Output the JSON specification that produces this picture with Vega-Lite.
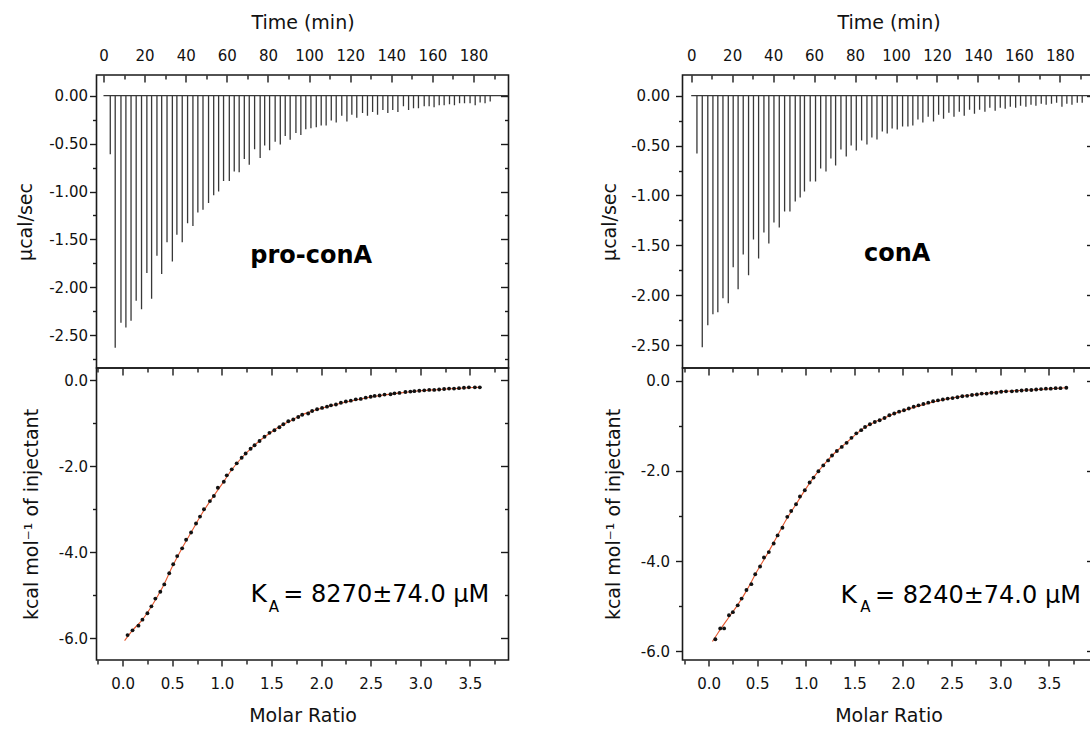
{
 "$schema": "https://vega.github.io/schema/vega-lite/v6.json",
 "background": "white",
 "padding": {"left": 15.5, "top": 12, "right": 0, "bottom": 0},
 "config": {
  "view": {"stroke": "#1a1a1a", "strokeWidth": 1.6},
  "font": "DejaVu Sans",
  "axis": {"domain": false, "grid": false, "labelFont": "DejaVu Sans", "labelFontSize": 15, "labelColor": "#111", "titleFont": "DejaVu Sans", "titleFontSize": 19, "titleFontWeight": "normal", "titleColor": "#111", "tickColor": "#1a1a1a", "tickWidth": 1.4, "labelFlush": false, "labelOverlap": false},
  "locale": {"number": {"decimal": ".", "thousands": ",", "grouping": [3], "currency": ["$", ""], "minus": "-"}}
 },
 "datasets": {
  "spikesL": [
   {"t":3.3,"h":-0.61},{"t":5.7,"h":-2.63},{"t":8.5,"h":-2.37},{"t":10.9,"h":-2.42},{"t":13.4,"h":-2.35},{"t":15.9,"h":-2.14},{"t":18.5,"h":-2.23},{"t":21.1,"h":-1.85},{"t":23.4,"h":-2.12},{"t":26.0,"h":-1.67},{"t":28.3,"h":-1.86},{"t":30.9,"h":-1.53},{"t":33.5,"h":-1.73},{"t":35.7,"h":-1.45},{"t":38.3,"h":-1.53},{"t":40.9,"h":-1.33},{"t":43.5,"h":-1.36},{"t":45.9,"h":-1.22},{"t":48.4,"h":-1.19},{"t":51.1,"h":-1.12},{"t":53.6,"h":-1.04},
   {"t":56.0,"h":-1.00},{"t":58.4,"h":-0.89},{"t":61.2,"h":-0.89},{"t":63.6,"h":-0.79},{"t":66.0,"h":-0.80},{"t":68.5,"h":-0.66},{"t":70.9,"h":-0.72},{"t":73.5,"h":-0.56},{"t":76.2,"h":-0.65},{"t":78.4,"h":-0.52},{"t":80.8,"h":-0.57},{"t":83.5,"h":-0.48},{"t":86.0,"h":-0.51},{"t":88.4,"h":-0.42},{"t":90.8,"h":-0.46},{"t":93.6,"h":-0.39},{"t":96.0,"h":-0.41},{"t":98.4,"h":-0.35},{"t":100.9,"h":-0.34},{"t":103.5,"h":-0.33},{"t":105.9,"h":-0.31},{"t":108.3,"h":-0.31},{"t":110.8,"h":-0.26},{"t":113.2,"h":-0.28},{"t":115.9,"h":-0.21},{"t":118.4,"h":-0.27},{"t":120.8,"h":-0.20},{"t":123.2,"h":-0.23},{"t":126.0,"h":-0.18},{"t":128.4,"h":-0.21},{"t":130.9,"h":-0.17},{"t":133.3,"h":-0.20},{"t":135.9,"h":-0.15},{"t":138.3,"h":-0.18},{"t":140.7,"h":-0.15},{"t":143.2,"h":-0.17},{"t":145.9,"h":-0.11},{"t":148.4,"h":-0.15},{"t":150.8,"h":-0.13},{"t":153.2,"h":-0.13},{"t":156.0,"h":-0.11},{"t":158.4,"h":-0.11},{"t":160.8,"h":-0.12},{"t":163.3,"h":-0.10},{"t":165.7,"h":-0.10},{"t":168.3,"h":-0.09},{"t":170.7,"h":-0.10},{"t":173.2,"h":-0.08},{"t":175.6,"h":-0.08},{"t":178.3,"h":-0.08},{"t":180.8,"h":-0.10},{"t":183.2,"h":-0.07},{"t":185.6,"h":-0.08},{"t":188.1,"h":-0.06}
  ],
  "spikesR": [
   {"t":2.8,"h":-0.58},{"t":5.4,"h":-2.52},{"t":8.1,"h":-2.30},{"t":10.6,"h":-2.19},{"t":13.0,"h":-2.17},{"t":15.5,"h":-2.03},{"t":18.1,"h":-2.08},{"t":20.5,"h":-1.72},{"t":22.9,"h":-1.94},{"t":25.4,"h":-1.59},{"t":28.0,"h":-1.80},{"t":30.4,"h":-1.44},{"t":32.9,"h":-1.63},{"t":35.5,"h":-1.37},{"t":37.9,"h":-1.48},{"t":40.4,"h":-1.27},{"t":43.0,"h":-1.32},{"t":45.6,"h":-1.16},{"t":48.2,"h":-1.16},{"t":50.8,"h":-1.06},{"t":53.2,"h":-1.02},
   {"t":55.3,"h":-0.96},{"t":58.1,"h":-0.86},{"t":60.7,"h":-0.86},{"t":63.2,"h":-0.73},{"t":65.8,"h":-0.76},{"t":68.2,"h":-0.63},{"t":70.5,"h":-0.70},{"t":73.1,"h":-0.54},{"t":75.7,"h":-0.61},{"t":78.1,"h":-0.50},{"t":80.6,"h":-0.55},{"t":83.2,"h":-0.45},{"t":85.8,"h":-0.49},{"t":88.2,"h":-0.42},{"t":90.7,"h":-0.44},{"t":93.3,"h":-0.36},{"t":95.7,"h":-0.38},{"t":98.1,"h":-0.33},{"t":100.6,"h":-0.34},{"t":103.2,"h":-0.31},{"t":105.8,"h":-0.31},{"t":108.2,"h":-0.30},{"t":110.7,"h":-0.24},{"t":113.1,"h":-0.27},{"t":115.7,"h":-0.21},{"t":118.3,"h":-0.26},{"t":120.8,"h":-0.19},{"t":123.2,"h":-0.23},{"t":125.8,"h":-0.17},{"t":128.3,"h":-0.21},{"t":130.9,"h":-0.16},{"t":133.3,"h":-0.20},{"t":135.9,"h":-0.14},{"t":138.3,"h":-0.18},{"t":140.8,"h":-0.14},{"t":143.4,"h":-0.16},{"t":145.8,"h":-0.12},{"t":148.4,"h":-0.15},{"t":150.9,"h":-0.12},{"t":153.3,"h":-0.13},{"t":155.8,"h":-0.11},{"t":158.4,"h":-0.12},{"t":160.8,"h":-0.10},{"t":163.4,"h":-0.11},{"t":165.9,"h":-0.09},{"t":168.3,"h":-0.10},{"t":170.9,"h":-0.08},{"t":173.3,"h":-0.09},{"t":175.9,"h":-0.08},{"t":178.4,"h":-0.07},{"t":181.0,"h":-0.11},{"t":183.4,"h":-0.08},{"t":185.9,"h":-0.09},{"t":188.5,"h":-0.07},{"t":190.9,"h":-0.07}
  ],
  "pointsL": [
   {"m":0.05,"v":-5.93},{"m":0.10,"v":-5.82},{"m":0.16,"v":-5.71},{"m":0.20,"v":-5.57},{"m":0.25,"v":-5.42},{"m":0.29,"v":-5.26},{"m":0.33,"v":-5.08},{"m":0.38,"v":-4.92},{"m":0.42,"v":-4.75},{"m":0.47,"v":-4.49},{"m":0.51,"v":-4.28},{"m":0.55,"v":-4.09},{"m":0.60,"v":-3.91},{"m":0.64,"v":-3.71},{"m":0.69,"v":-3.54},{"m":0.74,"v":-3.33},{"m":0.78,"v":-3.17},{"m":0.82,"v":-3.00},{"m":0.88,"v":-2.81},{"m":0.92,"v":-2.69},{"m":0.96,"v":-2.50},{"m":1.02,"v":-2.36},{"m":1.05,"v":-2.21},{"m":1.10,"v":-2.07},{"m":1.15,"v":-1.93},{"m":1.20,"v":-1.80},{"m":1.24,"v":-1.70},{"m":1.29,"v":-1.59},{"m":1.33,"v":-1.51},{"m":1.38,"v":-1.41},{"m":1.43,"v":-1.31},{"m":1.48,"v":-1.22},{"m":1.53,"v":-1.16},{"m":1.58,"v":-1.09},{"m":1.62,"v":-1.02},{"m":1.67,"v":-0.95},{"m":1.72,"v":-0.91},{"m":1.77,"v":-0.85},{"m":1.81,"v":-0.80},{"m":1.87,"v":-0.77},{"m":1.91,"v":-0.71},{"m":1.96,"v":-0.67},{"m":2.01,"v":-0.64},{"m":2.06,"v":-0.61},{"m":2.10,"v":-0.58},{"m":2.15,"v":-0.56},{"m":2.20,"v":-0.52},{"m":2.25,"v":-0.49},{"m":2.30,"v":-0.47},{"m":2.35,"v":-0.44},{"m":2.40,"v":-0.43},{"m":2.45,"v":-0.40},{"m":2.50,"v":-0.38},{"m":2.54,"v":-0.36},{"m":2.59,"v":-0.35},{"m":2.64,"v":-0.33},{"m":2.70,"v":-0.32},{"m":2.74,"v":-0.30},{"m":2.79,"v":-0.29},{"m":2.85,"v":-0.27},{"m":2.90,"v":-0.26},{"m":2.94,"v":-0.25},{"m":2.99,"v":-0.24},{"m":3.04,"v":-0.23},{"m":3.09,"v":-0.22},{"m":3.14,"v":-0.22},{"m":3.19,"v":-0.21},{"m":3.24,"v":-0.20},{"m":3.29,"v":-0.19},{"m":3.34,"v":-0.19},{"m":3.39,"v":-0.18},{"m":3.44,"v":-0.17},{"m":3.49,"v":-0.16},{"m":3.55,"v":-0.16},{"m":3.60,"v":-0.16}
  ],
  "pointsR": [
   {"m":0.07,"v":-5.73},{"m":0.12,"v":-5.49},{"m":0.16,"v":-5.49},{"m":0.21,"v":-5.20},{"m":0.25,"v":-5.13},{"m":0.30,"v":-4.98},{"m":0.34,"v":-4.83},{"m":0.39,"v":-4.64},{"m":0.44,"v":-4.51},{"m":0.48,"v":-4.29},{"m":0.53,"v":-4.12},{"m":0.57,"v":-3.92},{"m":0.62,"v":-3.80},{"m":0.67,"v":-3.61},{"m":0.71,"v":-3.43},{"m":0.76,"v":-3.26},{"m":0.81,"v":-3.02},{"m":0.85,"v":-2.89},{"m":0.90,"v":-2.74},{"m":0.94,"v":-2.57},{"m":0.99,"v":-2.43},{"m":1.04,"v":-2.26},{"m":1.08,"v":-2.15},{"m":1.13,"v":-2.01},{"m":1.18,"v":-1.88},{"m":1.23,"v":-1.77},{"m":1.27,"v":-1.66},{"m":1.32,"v":-1.56},{"m":1.37,"v":-1.47},{"m":1.42,"v":-1.38},{"m":1.47,"v":-1.27},{"m":1.52,"v":-1.17},{"m":1.57,"v":-1.10},{"m":1.61,"v":-1.03},{"m":1.66,"v":-0.97},{"m":1.71,"v":-0.92},{"m":1.76,"v":-0.88},{"m":1.81,"v":-0.83},{"m":1.86,"v":-0.77},{"m":1.91,"v":-0.73},{"m":1.96,"v":-0.69},{"m":2.01,"v":-0.66},{"m":2.06,"v":-0.62},{"m":2.11,"v":-0.58},{"m":2.16,"v":-0.55},{"m":2.21,"v":-0.52},{"m":2.26,"v":-0.49},{"m":2.31,"v":-0.46},{"m":2.36,"v":-0.44},{"m":2.41,"v":-0.42},{"m":2.46,"v":-0.40},{"m":2.51,"v":-0.39},{"m":2.56,"v":-0.37},{"m":2.61,"v":-0.35},{"m":2.66,"v":-0.34},{"m":2.71,"v":-0.32},{"m":2.76,"v":-0.31},{"m":2.81,"v":-0.29},{"m":2.86,"v":-0.29},{"m":2.91,"v":-0.27},{"m":2.96,"v":-0.27},{"m":3.01,"v":-0.25},{"m":3.06,"v":-0.24},{"m":3.12,"v":-0.24},{"m":3.17,"v":-0.23},{"m":3.22,"v":-0.22},{"m":3.27,"v":-0.21},{"m":3.32,"v":-0.21},{"m":3.37,"v":-0.20},{"m":3.42,"v":-0.19},{"m":3.47,"v":-0.18},{"m":3.52,"v":-0.18},{"m":3.57,"v":-0.17},{"m":3.62,"v":-0.17},{"m":3.68,"v":-0.16}
  ],
  "fitL": [
   {"m":0.02,"v":-6.06},{"m":0.1,"v":-5.82},{"m":0.2,"v":-5.57},{"m":0.3,"v":-5.23},{"m":0.4,"v":-4.83},{"m":0.5,"v":-4.34},{"m":0.6,"v":-3.90},{"m":0.7,"v":-3.50},{"m":0.8,"v":-3.10},{"m":0.9,"v":-2.75},{"m":1.0,"v":-2.42},{"m":1.1,"v":-2.08},{"m":1.2,"v":-1.80},{"m":1.3,"v":-1.57},{"m":1.4,"v":-1.37},{"m":1.5,"v":-1.20},{"m":1.6,"v":-1.05},{"m":1.7,"v":-0.93},{"m":1.8,"v":-0.81},{"m":1.9,"v":-0.72},{"m":2.0,"v":-0.65},{"m":2.2,"v":-0.53},{"m":2.4,"v":-0.43},{"m":2.6,"v":-0.35},{"m":2.8,"v":-0.29},{"m":3.0,"v":-0.24},{"m":3.2,"v":-0.21},{"m":3.4,"v":-0.18},{"m":3.6,"v":-0.16}
  ],
  "fitR": [
   {"m":0.04,"v":-5.78},{"m":0.1,"v":-5.58},{"m":0.2,"v":-5.27},{"m":0.3,"v":-4.97},{"m":0.4,"v":-4.62},{"m":0.5,"v":-4.22},{"m":0.6,"v":-3.86},{"m":0.7,"v":-3.47},{"m":0.8,"v":-3.08},{"m":0.9,"v":-2.74},{"m":1.0,"v":-2.40},{"m":1.1,"v":-2.09},{"m":1.2,"v":-1.83},{"m":1.3,"v":-1.60},{"m":1.4,"v":-1.41},{"m":1.5,"v":-1.22},{"m":1.6,"v":-1.05},{"m":1.7,"v":-0.93},{"m":1.8,"v":-0.84},{"m":1.9,"v":-0.74},{"m":2.0,"v":-0.67},{"m":2.2,"v":-0.54},{"m":2.4,"v":-0.43},{"m":2.6,"v":-0.35},{"m":2.8,"v":-0.30},{"m":3.0,"v":-0.25},{"m":3.2,"v":-0.22},{"m":3.4,"v":-0.20},{"m":3.68,"v":-0.16}
  ]
 },
 "bounds": "flush",
 "columns": 2,
 "spacing": {"row": 0, "column": 174},
 "concat": [
    {
     "width": 412, "height": 293,
     "layer": [
      {
       "data": {"name": "spikesL"},
       "mark": {"type": "rule", "color": "#383838", "strokeWidth": 1.3, "clip": true},
       "encoding": {
        "x": {"field": "t", "type": "quantitative", "scale": {"domain": [-3.4, 197], "nice": false, "zero": false},
         "axis": {"orient": "top", "title": "Time (min)", "values": [0,10,20,30,40,50,60,70,80,90,100,110,120,130,140,150,160,170,180,190], "labelExpr": "datum.value % 20 === 0 ? datum.label : ''", "tickSize": {"condition": {"test": "datum.value % 20 === 0", "value": -7}, "value": -4}, "labelPadding": 19, "titlePadding": 13}},
        "y": {"field": "h", "type": "quantitative", "scale": {"domain": [-2.842, 0.216], "nice": false, "zero": false},
         "axis": {"orient": "left", "title": "µcal/sec", "values": [0,-0.25,-0.5,-0.75,-1,-1.25,-1.5,-1.75,-2,-2.25,-2.5,-2.75], "format": ".2f", "labelExpr": "abs(datum.value*2 - round(datum.value*2)) < 0.001 ? datum.label : ''", "tickSize": {"condition": {"test": "abs(datum.value*2 - round(datum.value*2)) < 0.001", "value": 7}, "value": 4}, "labelPadding": 2, "titlePadding": 13}},
        "y2": {"datum": 0}
       }
      },
      {
       "data": {"values": [{}]},
       "mark": {"type": "rule", "color": "#383838", "strokeWidth": 1.2, "clip": true},
       "encoding": {
        "x": {"datum": 0, "type": "quantitative", "axis": null},
        "x2": {"datum": 197},
        "y": {"datum": 0, "type": "quantitative",
         "axis": {"orient": "right", "title": null, "labels": false, "values": [0,-0.25,-0.5,-0.75,-1,-1.25,-1.5,-1.75,-2,-2.25,-2.5,-2.75], "tickSize": {"condition": {"test": "abs(datum.value*2 - round(datum.value*2)) < 0.001", "value": -8}, "value": -4}}}
       }
      },
      {
       "data": {"values": [{}]},
       "mark": {"type": "text", "text": "pro-conA", "font": "DejaVu Sans", "fontSize": 24, "fontWeight": "bold", "color": "#000", "align": "center", "baseline": "middle"},
       "encoding": {
        "x": {"datum": 101, "type": "quantitative", "axis": null},
        "y": {"datum": -1.67, "type": "quantitative", "axis": null}
       }
      }
     ],
     "resolve": {"axis": {"x": "independent", "y": "independent"}}
    },
    {
     "width": 412, "height": 293,
     "layer": [
      {
       "data": {"name": "spikesR"},
       "mark": {"type": "rule", "color": "#383838", "strokeWidth": 1.3, "clip": true},
       "encoding": {
        "x": {"field": "t", "type": "quantitative", "scale": {"domain": [-4.25, 196.9], "nice": false, "zero": false},
         "axis": {"orient": "top", "title": "Time (min)", "values": [0,10,20,30,40,50,60,70,80,90,100,110,120,130,140,150,160,170,180,190], "labelExpr": "datum.value % 20 === 0 ? datum.label : ''", "tickSize": {"condition": {"test": "datum.value % 20 === 0", "value": -7}, "value": -4}, "labelPadding": 19, "titlePadding": 13}},
        "y": {"field": "h", "type": "quantitative", "scale": {"domain": [-2.728, 0.207], "nice": false, "zero": false},
         "axis": {"orient": "left", "title": "µcal/sec", "values": [0,-0.25,-0.5,-0.75,-1,-1.25,-1.5,-1.75,-2,-2.25,-2.5], "format": ".2f", "labelExpr": "abs(datum.value*2 - round(datum.value*2)) < 0.001 ? datum.label : ''", "tickSize": {"condition": {"test": "abs(datum.value*2 - round(datum.value*2)) < 0.001", "value": 7}, "value": 4}, "labelPadding": 6, "titlePadding": 11}},
        "y2": {"datum": 0}
       }
      },
      {
       "data": {"values": [{}]},
       "mark": {"type": "rule", "color": "#383838", "strokeWidth": 1.2, "clip": true},
       "encoding": {
        "x": {"datum": 0, "type": "quantitative", "axis": null},
        "x2": {"datum": 197},
        "y": {"datum": 0, "type": "quantitative",
         "axis": {"orient": "right", "title": null, "labels": false, "values": [0,-0.25,-0.5,-0.75,-1,-1.25,-1.5,-1.75,-2,-2.25,-2.5], "tickSize": {"condition": {"test": "abs(datum.value*2 - round(datum.value*2)) < 0.001", "value": -8}, "value": -4}}}
       }
      },
      {
       "data": {"values": [{}]},
       "mark": {"type": "text", "text": "conA", "font": "DejaVu Sans", "fontSize": 24, "fontWeight": "bold", "color": "#000", "align": "center", "baseline": "middle"},
       "encoding": {
        "x": {"datum": 100.6, "type": "quantitative", "axis": null},
        "y": {"datum": -1.59, "type": "quantitative", "axis": null}
       }
      }
     ],
     "resolve": {"axis": {"x": "independent", "y": "independent"}}
    },
    {
     "width": 412, "height": 292,
     "layer": [
      {
       "data": {"name": "fitL"},
       "mark": {"type": "line", "color": "#e4572e", "strokeWidth": 1.1, "interpolate": "monotone"},
       "encoding": {
        "x": {"field": "m", "type": "quantitative", "scale": {"domain": [-0.263, 3.889], "nice": false, "zero": false},
         "axis": {"orient": "top", "title": null, "labels": false, "values": [-0.25,0,0.25,0.5,0.75,1,1.25,1.5,1.75,2,2.25,2.5,2.75,3,3.25,3.5,3.75], "tickSize": {"condition": {"test": "abs(datum.value*2 - round(datum.value*2)) < 0.001", "value": -7}, "value": -4}}},
        "y": {"field": "v", "type": "quantitative", "scale": {"domain": [-6.51, 0.29], "nice": false, "zero": false},
         "axis": {"orient": "right", "title": null, "labels": false, "values": [0,-1,-2,-3,-4,-5,-6], "tickSize": {"condition": {"test": "datum.value % 2 === 0", "value": -8}, "value": -4}}}
       }
      },
      {
       "data": {"name": "pointsL"},
       "mark": {"type": "circle", "size": 15, "color": "#111", "opacity": 1},
       "encoding": {
        "x": {"field": "m", "type": "quantitative",
         "axis": {"orient": "bottom", "title": "Molar Ratio", "format": ".1f", "values": [-0.25,0,0.25,0.5,0.75,1,1.25,1.5,1.75,2,2.25,2.5,2.75,3,3.25,3.5,3.75], "labelExpr": "abs(datum.value*2 - round(datum.value*2)) < 0.001 && datum.value >= 0 ? datum.label : ''", "tickSize": {"condition": {"test": "abs(datum.value*2 - round(datum.value*2)) < 0.001", "value": 6}, "value": 4}, "labelPadding": 10, "titlePadding": 15}},
        "y": {"field": "v", "type": "quantitative",
         "axis": {"orient": "left", "title": "kcal mol⁻¹ of injectant", "format": ".1f", "values": [0,-1,-2,-3,-4,-5,-6], "labelExpr": "datum.value % 2 === 0 ? datum.label : ''", "tickSize": {"condition": {"test": "datum.value % 2 === 0", "value": 7}, "value": 4}, "labelPadding": 2, "titlePadding": 17}}
       }
      },
      {
       "data": {"values": [{}]},
       "mark": {"type": "text", "text": "K", "font": "DejaVu Sans", "fontSize": 25, "color": "#000", "align": "left", "baseline": "alphabetic"},
       "encoding": {"x": {"datum": 1.288, "type": "quantitative", "axis": null}, "y": {"datum": -5.163, "type": "quantitative", "axis": null}}
      },
      {
       "data": {"values": [{}]},
       "mark": {"type": "text", "text": "A", "font": "DejaVu Sans", "fontSize": 15, "color": "#000", "align": "left", "baseline": "alphabetic"},
       "encoding": {"x": {"datum": 1.474, "type": "quantitative", "axis": null}, "y": {"datum": -5.39, "type": "quantitative", "axis": null}}
      },
      {
       "data": {"values": [{}]},
       "mark": {"type": "text", "text": "= 8270±74.0 µM", "font": "DejaVu Sans", "fontSize": 24, "color": "#000", "align": "left", "baseline": "alphabetic"},
       "encoding": {"x": {"datum": 1.62, "type": "quantitative", "axis": null}, "y": {"datum": -5.163, "type": "quantitative", "axis": null}}
      }
     ],
     "resolve": {"axis": {"x": "independent", "y": "independent"}}
    },
    {
     "width": 412, "height": 292,
     "layer": [
      {
       "data": {"name": "fitR"},
       "mark": {"type": "line", "color": "#e4572e", "strokeWidth": 1.1, "interpolate": "monotone"},
       "encoding": {
        "x": {"field": "m", "type": "quantitative", "scale": {"domain": [-0.268, 3.97], "nice": false, "zero": false},
         "axis": {"orient": "top", "title": null, "labels": false, "values": [-0.25,0,0.25,0.5,0.75,1,1.25,1.5,1.75,2,2.25,2.5,2.75,3,3.25,3.5,3.75], "tickSize": {"condition": {"test": "abs(datum.value*2 - round(datum.value*2)) < 0.001", "value": -7}, "value": -4}}},
        "y": {"field": "v", "type": "quantitative", "scale": {"domain": [-6.19, 0.277], "nice": false, "zero": false},
         "axis": {"orient": "right", "title": null, "labels": false, "values": [0,-1,-2,-3,-4,-5,-6], "tickSize": {"condition": {"test": "datum.value % 2 === 0", "value": -8}, "value": -4}}}
       }
      },
      {
       "data": {"name": "pointsR"},
       "mark": {"type": "circle", "size": 15, "color": "#111", "opacity": 1},
       "encoding": {
        "x": {"field": "m", "type": "quantitative",
         "axis": {"orient": "bottom", "title": "Molar Ratio", "format": ".1f", "values": [-0.25,0,0.25,0.5,0.75,1,1.25,1.5,1.75,2,2.25,2.5,2.75,3,3.25,3.5,3.75], "labelExpr": "abs(datum.value*2 - round(datum.value*2)) < 0.001 && datum.value >= 0 ? datum.label : ''", "tickSize": {"condition": {"test": "abs(datum.value*2 - round(datum.value*2)) < 0.001", "value": 6}, "value": 4}, "labelPadding": 10, "titlePadding": 15}},
        "y": {"field": "v", "type": "quantitative",
         "axis": {"orient": "left", "title": "kcal mol⁻¹ of injectant", "format": ".1f", "values": [0,-1,-2,-3,-4,-5,-6], "labelExpr": "datum.value % 2 === 0 ? datum.label : ''", "tickSize": {"condition": {"test": "datum.value % 2 === 0", "value": 7}, "value": 4}, "labelPadding": 6, "titlePadding": 17}}
       }
      },
      {
       "data": {"values": [{}]},
       "mark": {"type": "text", "text": "K", "font": "DejaVu Sans", "fontSize": 25, "color": "#000", "align": "left", "baseline": "alphabetic"},
       "encoding": {"x": {"datum": 1.356, "type": "quantitative", "axis": null}, "y": {"datum": -4.918, "type": "quantitative", "axis": null}}
      },
      {
       "data": {"values": [{}]},
       "mark": {"type": "text", "text": "A", "font": "DejaVu Sans", "fontSize": 15, "color": "#000", "align": "left", "baseline": "alphabetic"},
       "encoding": {"x": {"datum": 1.561, "type": "quantitative", "axis": null}, "y": {"datum": -5.126, "type": "quantitative", "axis": null}}
      },
      {
       "data": {"values": [{}]},
       "mark": {"type": "text", "text": "= 8240±74.0 µM", "font": "DejaVu Sans", "fontSize": 24, "color": "#000", "align": "left", "baseline": "alphabetic"},
       "encoding": {"x": {"datum": 1.711, "type": "quantitative", "axis": null}, "y": {"datum": -4.918, "type": "quantitative", "axis": null}}
      }
     ],
     "resolve": {"axis": {"x": "independent", "y": "independent"}}
    }
 ]
}
